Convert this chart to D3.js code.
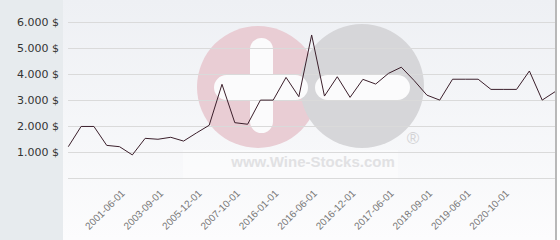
<!DOCTYPE html>
<html>
<head>
<meta charset="utf-8">
<script src="https://cdn.jsdelivr.net/npm/d3@7"></script>
<style>
  html, body { margin: 0; padding: 0; background: #fff; }
  svg { display: block; }
</style>
</head>
<body>
<div id="chart"></div>
<script>
const dates = [
  "2000-06-01", "2000-09-01", "2000-12-01", "2001-03-01", "2001-06-01",
  "2002-03-01", "2002-12-01", "2003-09-01", "2004-06-01", "2005-03-01",
  "2005-12-01", "2006-06-01", "2007-03-01", "2007-10-01", "2010-01-01",
  "2013-01-01", "2016-01-01", "2016-03-01", "2016-05-01", "2016-06-01",
  "2016-08-01", "2016-10-01", "2016-12-01", "2017-02-01", "2017-04-01",
  "2017-06-01", "2017-10-01", "2018-03-01", "2018-09-01", "2018-12-01",
  "2019-03-01", "2019-06-01", "2019-12-01", "2020-06-01", "2020-10-01",
  "2021-01-01", "2021-04-01", "2021-07-01", "2021-10-01"
];
const prices = [
  1215, 1990, 1990, 1265, 1215, 900, 1535, 1500, 1575, 1430,
  1740, 2035, 3605, 2135, 2075, 3000, 3000, 3870, 3130, 5495,
  3155, 3895, 3105, 3795, 3615, 4025, 4260, 3750, 3190, 3000,
  3800, 3800, 3800, 3410, 3410, 3410, 4115, 3000, 3320
];
const labelledDates = [
  "2001-06-01", "2003-09-01", "2005-12-01", "2007-10-01", "2016-01-01",
  "2016-06-01", "2016-12-01", "2017-06-01", "2018-09-01", "2019-06-01",
  "2020-10-01"
];
const gridValues = [0, 1000, 2000, 3000, 4000, 5000, 6000];
const yTickValues = [1000, 2000, 3000, 4000, 5000, 6000];

const width = 560;
const height = 240;

const svg = d3
  .select("#chart")
  .append("svg")
  .attr("width", width)
  .attr("height", height)
  .style("font-family", "'DejaVu Sans', sans-serif");

const locale = d3.formatLocale({
  decimal: ",",
  thousands: ".",
  grouping: [3],
  currency: ["", " $"],
});
const fmt = locale.format("$,.0f");

const x = d3.scalePoint().domain(dates).range([68.3, 555]);
const y = d3.scaleLinear().domain([0, 6000]).range([178.4, 21.8]);

// backgrounds
const defs = svg.append("defs");
const grad = defs
  .append("linearGradient")
  .attr("id", "plotbg")
  .attr("x1", 0).attr("y1", 0).attr("x2", 0).attr("y2", 1);
grad.append("stop").attr("offset", "0%").attr("stop-color", "#eef0f4");
grad.append("stop").attr("offset", "100%").attr("stop-color", "#fcfcfd");

svg.append("rect")
  .attr("width", width).attr("height", height)
  .attr("fill", "#fff");
svg.append("rect")
  .attr("width", 63).attr("height", height)
  .attr("fill", "#e7ebee");
svg.append("rect")
  .attr("x", 63).attr("width", 492).attr("height", height)
  .attr("fill", "url(#plotbg)");
svg.append("rect")
  .attr("x", 555).attr("width", 2).attr("height", height)
  .attr("fill", "#b8b8b8");

// watermark
const wm = svg.append("g").attr("class", "watermark");
wm.append("rect")
  .attr("x", 183).attr("y", 150).attr("width", 215).attr("height", 30)
  .attr("fill", "#fff").attr("opacity", 0.4);
wm.append("circle")
  .attr("cx", 258).attr("cy", 87).attr("r", 61)
  .attr("fill", "#e9cdd4");
wm.append("circle")
  .attr("cx", 362).attr("cy", 86).attr("r", 62)
  .attr("fill", "#d6d6d9");
wm.append("rect")
  .attr("x", 250).attr("y", 38).attr("width", 23).attr("height", 95)
  .attr("rx", 11.5)
  .attr("fill", "#fbfbfc");
wm.append("rect")
  .attr("x", 214).attr("y", 75).attr("width", 94).attr("height", 25)
  .attr("rx", 12.5)
  .attr("fill", "#fbfbfc");
wm.append("rect")
  .attr("x", 315).attr("y", 75).attr("width", 95).attr("height", 25)
  .attr("rx", 12.5)
  .attr("fill", "#fbfbfc");
wm.append("text")
  .attr("x", 413).attr("y", 144)
  .attr("text-anchor", "middle")
  .attr("font-family", "'Liberation Sans', Arial, sans-serif")
  .attr("font-size", 17)
  .attr("fill", "#d3d3d5")
  .text("®");
wm.append("text")
  .attr("x", 313).attr("y", 167)
  .attr("text-anchor", "middle")
  .attr("font-family", "'Liberation Sans', Arial, sans-serif")
  .attr("font-weight", "bold")
  .attr("font-size", 15)
  .attr("fill", "#e1e1e3")
  .text("www.Wine-Stocks.com");

// gridlines
svg.append("g")
  .selectAll("line")
  .data(gridValues)
  .join("line")
  .attr("x1", 68)
  .attr("x2", 555)
  .attr("y1", (d) => Math.round(y(d)) + 0.5)
  .attr("y2", (d) => Math.round(y(d)) + 0.5)
  .attr("stroke", "#dadada")
  .attr("stroke-width", 1);

// y axis labels
svg.append("g")
  .selectAll("text")
  .data(yTickValues)
  .join("text")
  .attr("x", 59)
  .attr("y", (d) => y(d))
  .attr("dy", "0.35em")
  .attr("text-anchor", "end")
  .attr("font-size", 11)
  .attr("fill", "#333")
  .text((d) => fmt(d));

// x axis labels
svg.append("g")
  .selectAll("text")
  .data(labelledDates)
  .join("text")
  .attr("transform", (d) => `translate(${x(d) + 6},194) rotate(-45)`)
  .attr("text-anchor", "end")
  .attr("font-family", "'Liberation Sans', Arial, sans-serif")
  .attr("font-size", 10)
  .attr("fill", "#777")
  .text((d) => d);

// price line
const line = d3
  .line()
  .x((d, i) => x(dates[i]))
  .y((d) => y(d));

svg.append("path")
  .datum(prices)
  .attr("d", line)
  .attr("fill", "none")
  .attr("stroke", "#3b1f2b")
  .attr("stroke-width", 1);
</script>
</body>
</html>
